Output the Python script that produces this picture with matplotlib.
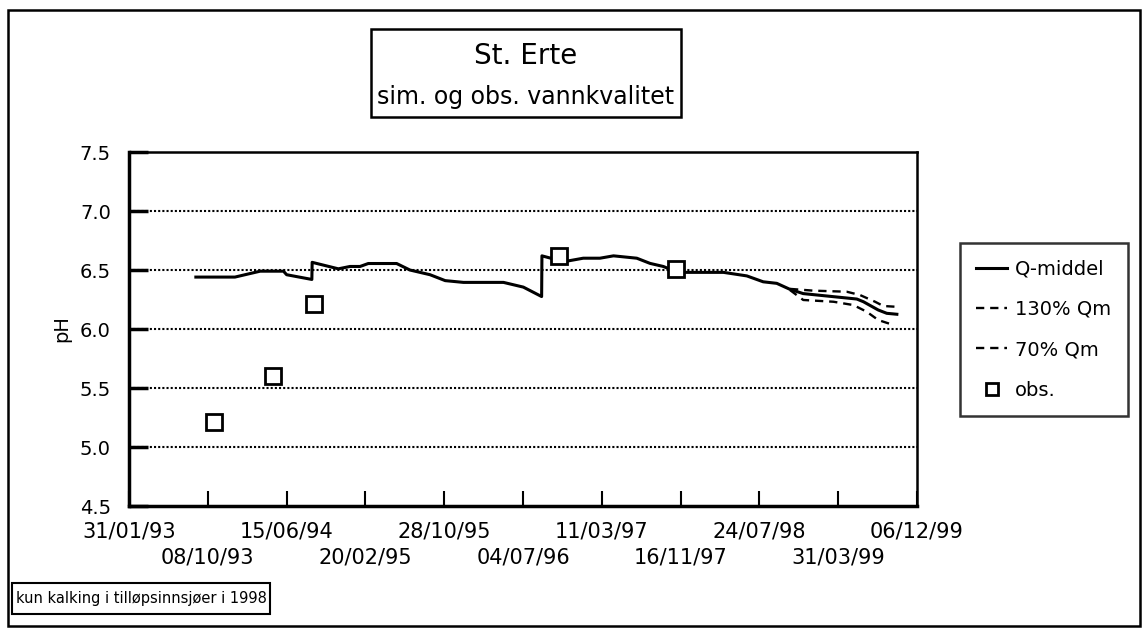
import numpy as np
import pandas as pd
import matplotlib
matplotlib.use('Agg')
import matplotlib.pyplot as plt
from matplotlib.patches import Rectangle

plt.rcParams['font.family'] = ['DejaVu Sans']
plt.rcParams['font.size'] = 14

# simulated pH, Q-middel
sim_dates = ['1993-08-31', '1994-01-02', '1994-03-23', '1994-06-05', '1994-06-15',
             '1994-09-03', '1994-09-04', '1994-11-26', '1995-01-02', '1995-02-03',
             '1995-03-01', '1995-05-30', '1995-07-11', '1995-09-13', '1995-10-31',
             '1995-12-28', '1996-05-03', '1996-07-05', '1996-09-01', '1996-09-02',
             '1996-10-14', '1996-11-20', '1997-01-11', '1997-03-05', '1997-04-17',
             '1997-06-30', '1997-08-11', '1997-09-22', '1997-10-29', '1997-11-25',
             '1998-04-01', '1998-06-14', '1998-08-05', '1998-09-17', '1998-10-29',
             '1998-12-10', '1999-03-16', '1999-05-29', '1999-06-19', '1999-08-05',
             '1999-09-01', '1999-10-03']
sim_ph = [6.44, 6.44, 6.49, 6.49, 6.46,
          6.42, 6.565, 6.51, 6.53, 6.53,
          6.555, 6.555, 6.50, 6.46, 6.41,
          6.395, 6.395, 6.355, 6.275, 6.62,
          6.59, 6.575, 6.60, 6.60, 6.62,
          6.60, 6.556, 6.53, 6.49, 6.48,
          6.48, 6.45, 6.40, 6.387, 6.336,
          6.30, 6.274, 6.254, 6.231, 6.161,
          6.133, 6.125]

# 130% Qm
q130_dates = ['1998-10-29', '1999-01-11', '1999-04-27', '1999-06-08',
              '1999-07-26', '1999-08-21', '1999-09-27']
q130_ph = [6.34, 6.325, 6.316, 6.288, 6.231, 6.195, 6.189]

# 70% Qm
q70_dates = ['1998-10-29', '1998-12-10', '1999-03-16', '1999-05-18',
             '1999-06-29', '1999-08-05', '1999-09-22']
q70_ph = [6.33, 6.246, 6.231, 6.203, 6.147, 6.076, 6.034]

# observations
obs_dates = ['1993-10-26', '1994-05-04', '1994-09-11', '1996-10-27', '1997-11-01']
obs_ph = [5.21, 5.6, 6.21, 6.62, 6.51]

tick_labels = ['31/01/93', '08/10/93', '15/06/94', '20/02/95', '28/10/95',
               '04/07/96', '11/03/97', '16/11/97', '24/07/98', '31/03/99',
               '06/12/99']
y_ticks = [4.5, 5.0, 5.5, 6.0, 6.5, 7.0, 7.5]

fig = plt.figure(figsize=(11.48, 6.36), dpi=100, facecolor='w')
ax = fig.add_axes([0.1124, 0.2044, 0.6864, 0.5566])

ax.plot(pd.to_datetime(sim_dates), sim_ph, color='k', lw=2.2, label='Q-middel')
ax.plot(pd.to_datetime(q130_dates), q130_ph, color='k', lw=1.7,
        dashes=(3.5, 2.5), label='130% Qm')
ax.plot(pd.to_datetime(q70_dates), q70_ph, color='k', lw=1.7,
        dashes=(3.5, 2.5), label='70% Qm')
ax.plot(pd.to_datetime(obs_dates), obs_ph, ls='none', marker='s', ms=11,
        mfc='white', mec='k', mew=2.0, label='obs.')

# x axis: date ticks every 250 days, two rows of labels
tick_pos = pd.to_datetime(tick_labels, format='%d/%m/%y')
ax.set_xlim(tick_pos[0], tick_pos[-1])
ax.set_xticks(tick_pos[::2])
ax.set_xticklabels(tick_labels[::2], fontsize=15)
ax.set_xticks(tick_pos[1::2], minor=True)
ax.set_xticklabels(tick_labels[1::2], minor=True, fontsize=15)
ax.tick_params(axis='x', which='major', direction='in', length=11, width=1.5, pad=11)
ax.tick_params(axis='x', which='minor', direction='in', length=11, width=1.5, pad=30)

ax.set_ylim(4.5, 7.5)
ax.set_yticks(y_ticks)
ax.set_yticklabels(['%.1f' % v for v in y_ticks])
ax.tick_params(axis='y', direction='in', length=14, width=2.5, pad=13)
ax.set_ylabel('pH', labelpad=6)

for v in y_ticks[1:-1]:
    ax.axhline(v, color='k', lw=1.5, ls=(0, (1, 1)), zorder=0)

ax.spines['left'].set_linewidth(2.5)
ax.spines['bottom'].set_linewidth(2.5)
ax.spines['top'].set_linewidth(1.8)
ax.spines['right'].set_linewidth(1.8)

leg = fig.legend(loc='upper left', bbox_to_anchor=(0.836, 0.618),
                 frameon=True, fancybox=False, edgecolor='k',
                 handlelength=1.6, handletextpad=0.4, labelspacing=1.1,
                 borderpad=0.85, borderaxespad=0, markerscale=0.8)
leg.get_frame().set_linewidth(1.8)

# title box
fig.patches.append(Rectangle((0.323, 0.816), 0.270, 0.138, transform=fig.transFigure,
                             fill=False, edgecolor='k', lw=1.8))
fig.text(0.458, 0.912, 'St. Erte', ha='center', va='center', fontsize=20)
fig.text(0.458, 0.847, 'sim. og obs. vannkvalitet', ha='center', va='center',
         fontsize=17)

# outer frame
fig.patches.append(Rectangle((0.007, 0.0157), 0.986, 0.968, transform=fig.transFigure,
                             fill=False, edgecolor='k', lw=1.8))

# footnote box
fig.patches.append(Rectangle((0.0105, 0.0346), 0.2247, 0.0487, transform=fig.transFigure,
                             fill=False, edgecolor='k', lw=1.5))
fig.text(0.0139, 0.059, 'kun kalking i tilløpsinnsjøer i 1998', ha='left', va='center',
         fontsize=10.5, family=['Liberation Sans Narrow', 'DejaVu Sans'])

plt.savefig('out.png', dpi=100, facecolor='w')
